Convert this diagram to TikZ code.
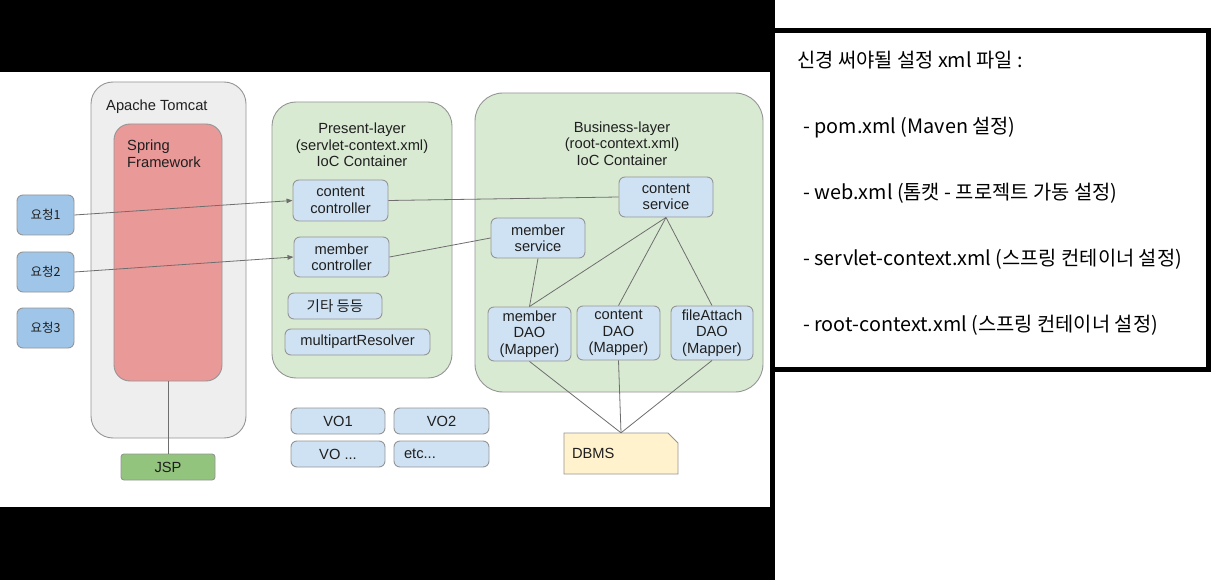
\documentclass[tikz,border=0pt]{standalone}
\usepackage{fontspec}
\setmainfont{Liberation Sans}
\newfontfamily\kr{Noto Sans CJK KR}
\usetikzlibrary{arrows.meta}
\definecolor{tomfill}{HTML}{EEEEEE}
\definecolor{sprfill}{HTML}{EA9999}
\definecolor{grnfill}{HTML}{D9EAD3}
\definecolor{bluefill}{HTML}{CFE2F3}
\definecolor{reqfill}{HTML}{9FC5E8}
\definecolor{jspfill}{HTML}{93C47D}
\definecolor{dbfill}{HTML}{FFF2CC}
\definecolor{edgegray}{HTML}{959595}
\definecolor{wire}{HTML}{6E6E6E}
\tikzset{
  base/.style={draw=edgegray, line width=0.9pt, inner sep=0pt, align=center,
    font=\fontsize{14.7}{16.5}\selectfont, text=black!88},
  cont/.style={base, rounded corners=24pt},
  item/.style={base, fill=bluefill, rounded corners=6pt},
  req/.style={base, fill=reqfill, rounded corners=6pt, minimum width=57pt, minimum height=40pt,
    font=\kr\fontsize{12.5}{14}\selectfont},
  ttl/.style={inner sep=0pt, align=center, font=\fontsize{14.7}{16.5}\selectfont, text=black!88},
  conn/.style={draw=wire, line width=0.8pt},
  arr/.style={conn, -{Triangle[length=6pt,width=4.5pt]}},
  note/.style={inner sep=0pt, anchor=west, font=\kr\fontsize{19.8}{21}\selectfont}
}
\begin{document}
\begin{tikzpicture}[x=1pt,y=-1pt]
\useasboundingbox (0,0) rectangle (1216,580);
\fill[white] (0,0) rectangle (1216,580);
% black surroundings
\fill[black] (0,0) rectangle (775,72);
\fill[black] (0,507) rectangle (775,580);
\fill[black] (770,72) rectangle (775,580);
\draw[black, line width=5pt] (772.5,30.5) rectangle (1208.5,369.5);

% containers
\node[cont, fill=tomfill, minimum width=155pt, minimum height=356pt, rounded corners=22pt] (tomcat) at (168.5,260) {};
\node[ttl, anchor=west] (tomcatT) at (106,107) {Apache Tomcat};
\node[cont, fill=sprfill, minimum width=108pt, minimum height=257pt, rounded corners=16pt] (spring) at (168,252.5) {};
\node[ttl, anchor=north west, align=left] (springT) at (127,140) {Spring\\Framework};
\node[base, fill=jspfill, rounded corners=3pt, minimum width=94pt, minimum height=26pt] (jsp) at (168,467) {JSP};

\node[cont, fill=grnfill, minimum width=180pt, minimum height=276pt] (present) at (362,240) {};
\node[ttl] (presentT) at (362,145) {Present-layer\\(servlet-context.xml)\\IoC Container};
\node[cont, fill=grnfill, minimum width=288pt, minimum height=299pt, rounded corners=28pt] (business) at (619,242.5) {};
\node[ttl] (businessT) at (622,143.5) {Business-layer\\(root-context.xml)\\IoC Container};

% requests
\node[req] (req1) at (45.5,215) {요청1};
\node[req] (req2) at (45.5,272) {요청2};
\node[req] (req3) at (45.5,328) {요청3};

% present layer items
\node[item, minimum width=95pt, minimum height=41pt] (cctrl) at (340.5,200.5) {content\\controller};
\node[item, minimum width=95pt, minimum height=40pt] (mctrl) at (341.5,257) {member\\controller};
\node[item, minimum width=94pt, minimum height=26pt, font=\kr\fontsize{14.5}{16}\selectfont] (etcko) at (335,306) {기타 등등};
\node[item, minimum width=145pt, minimum height=26pt] (multi) at (357.5,342) {multipartResolver};

% VOs
\node[item, minimum width=94pt, minimum height=26pt] (vo1) at (338,421) {VO1};
\node[item, minimum width=95pt, minimum height=26pt] (vo2) at (441.5,421) {VO2};
\node[item, minimum width=94pt, minimum height=26pt] (vox) at (338,454) {VO ...};
\node[item, text width=75pt, inner xsep=10pt, minimum height=26pt, align=left] (etc) at (441.5,454) {etc...};

% business layer items
\node[item, minimum width=94pt, minimum height=40pt] (csvc) at (666,197) {content\\service};
\node[item, minimum width=94pt, minimum height=40pt] (msvc) at (538,238) {member\\service};
\node[item, minimum width=83pt, minimum height=54pt] (mdao) at (529.5,334) {member\\DAO\\(Mapper)};
\node[item, minimum width=83pt, minimum height=54pt] (cdao) at (618.5,333) {content\\DAO\\(Mapper)};
\node[item, minimum width=82pt, minimum height=54pt] (fdao) at (712,333) {fileAttach\\DAO\\(Mapper)};

% DBMS (folded note)
\draw[draw=edgegray, line width=0.9pt, fill=dbfill] (564,474) -- (564,433) -- (668,433) -- (678,443) -- (678,474) -- cycle;
\node[ttl, minimum width=114pt, minimum height=41pt, text width=98pt, inner xsep=8pt, align=left] (dbms) at (621,453.5) {DBMS};

% connectors
\draw[arr] (req1.east) -- (cctrl.west);
\draw[arr] (req2.east) -- (mctrl.west);
\draw[conn] (cctrl.east) -- (csvc.west);
\draw[conn] (mctrl.east) -- (msvc.west);
\draw[conn] (csvc.south) -- (mdao.north);
\draw[conn] (csvc.south) -- (cdao.north);
\draw[conn] (csvc.south) -- (fdao.north);
\draw[conn] (msvc.south) -- (mdao.north);
\draw[conn] (mdao.south) -- (dbms.north);
\draw[conn] (cdao.south) -- (dbms.north);
\draw[conn] (fdao.south) -- (dbms.north);
\draw[conn] (spring.south) -- (jsp.north);

% notes box text
\node[note] (n0) at (797,60) {신경 써야될 설정 xml 파일 :};
\node[note] (n1) at (803,128) {- pom.xml (Maven 설정)};
\node[note] (n2) at (803,193) {- web.xml (톰캣 - 프로젝트 가동 설정)};
\node[note] (n3) at (803,259) {- servlet-context.xml (스프링 컨테이너 설정)};
\node[note] (n4) at (803,325) {- root-context.xml (스프링 컨테이너 설정)};
\end{tikzpicture}
\end{document}
